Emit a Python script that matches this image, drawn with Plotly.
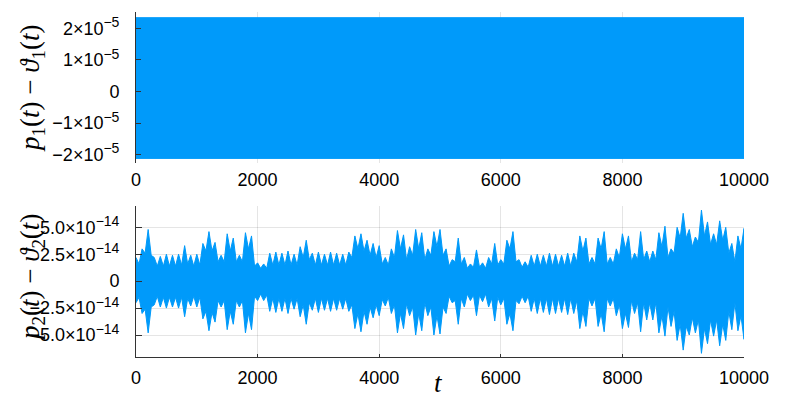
import plotly.graph_objects as go

# ---- data ----
# top panel: p1(t) - theta1(t), dense oscillation -> envelope
top_t = [0, 10000]
top_upper = [2.34e-5, 2.34e-5]
top_lower = [-2.12e-5, -2.12e-5]

# bottom panel: p2(t) - theta2(t), units of 1e-14
# spike peaks every 100 t
peak_t = list(range(0, 10001, 100))
peak_upper = [2.2, 3.0, 4.8, 2.2, 2.3, 2.5, 2.4, 2.5, 3.3, 2.4,
              2.5, 3.5, 4.6, 3.6, 2.4, 4.4, 4.0, 2.4, 4.5, 4.2,
              1.7, 1.6, 2.6, 2.7, 2.6, 2.8, 2.5, 3.2, 3.8, 2.6,
              2.7, 2.5, 2.7, 2.6, 2.5, 2.7, 4.2, 4.4, 3.8, 3.5,
              3.3, 2.2, 3.0, 4.7, 4.3, 3.2, 4.8, 4.5, 3.0, 4.6,
              4.8, 3.0, 2.0, 4.0, 2.2, 1.6, 2.9, 1.7, 2.2, 3.5,
              2.0, 3.8, 4.6, 2.0, 1.8, 2.4, 2.5, 2.4, 2.6, 2.5,
              2.4, 2.6, 2.6, 4.2, 4.0, 2.2, 4.0, 4.6, 2.2, 3.0,
              4.4, 4.2, 2.6, 4.6, 2.8, 2.8, 4.5, 5.1, 3.0, 5.0,
              6.3, 4.8, 4.1, 6.6, 5.5, 4.4, 5.6, 5.0, 3.5, 4.2,
              4.9]
peak_lower = [-2.0, -3.0, -4.8, -2.2, -2.4, -2.5, -2.4, -2.5, -3.3, -2.3,
              -2.4, -3.5, -4.6, -3.8, -2.4, -4.5, -4.0, -2.4, -4.8, -4.5,
              -1.8, -1.8, -2.8, -2.9, -2.8, -3.0, -2.6, -3.3, -4.0, -2.7,
              -2.9, -2.7, -2.8, -2.7, -2.6, -2.8, -4.4, -4.7, -4.0, -3.4,
              -3.2, -2.3, -3.0, -4.8, -4.4, -3.2, -5.0, -4.6, -3.2, -5.0,
              -4.9, -3.0, -2.0, -4.0, -2.4, -1.8, -3.2, -1.9, -2.4, -3.7,
              -2.2, -4.0, -4.6, -2.1, -2.0, -2.8, -3.0, -2.9, -3.1, -3.0,
              -2.9, -3.1, -3.0, -4.4, -4.2, -2.3, -4.2, -4.7, -2.3, -3.2,
              -4.4, -4.3, -3.0, -4.7, -3.6, -3.6, -4.8, -5.1, -4.2, -5.5,
              -6.4, -5.0, -4.8, -6.7, -5.8, -5.1, -6.0, -5.5, -4.5, -4.6,
              -5.4]
# solid core level between spikes, at t = 50, 150, ..., 9950
core_t = list(range(50, 10000, 100))
core_upper = [1.6, 2.6, 2.4, 1.4, 1.4, 1.4, 1.4, 1.5, 1.6, 1.4,
              1.5, 2.8, 2.8, 1.8, 1.8, 2.8, 1.8, 1.8, 3.0, 1.4,
              1.2, 1.2, 1.5, 1.5, 1.5, 1.5, 1.5, 2.2, 2.0, 1.5,
              1.5, 1.5, 1.5, 1.5, 1.5, 2.2, 3.0, 2.8, 2.4, 2.2,
              1.6, 1.5, 2.2, 3.0, 2.0, 2.4, 3.0, 2.0, 2.4, 3.2,
              2.4, 1.4, 1.8, 1.6, 1.2, 1.3, 1.3, 1.2, 1.6, 1.5,
              1.6, 3.0, 1.8, 1.3, 1.3, 1.4, 1.4, 1.4, 1.4, 1.4,
              1.4, 1.4, 1.8, 2.8, 1.6, 1.6, 3.0, 1.6, 1.6, 2.2,
              3.0, 1.8, 2.0, 2.0, 1.8, 2.0, 3.2, 2.2, 2.6, 4.0,
              4.0, 3.2, 3.6, 4.2, 3.4, 3.4, 3.8, 2.6, 1.8, 3.0]
core_lower = [-1.5, -2.6, -2.4, -1.4, -1.5, -1.5, -1.5, -1.5, -1.6, -1.4,
              -1.5, -2.8, -2.9, -1.8, -1.8, -2.8, -1.8, -1.8, -3.0, -1.4,
              -1.2, -1.3, -1.6, -1.6, -1.6, -1.6, -1.6, -2.2, -2.0, -1.6,
              -1.6, -1.6, -1.6, -1.6, -1.6, -2.2, -3.0, -2.8, -2.4, -2.2,
              -1.7, -1.5, -2.2, -3.0, -2.1, -2.4, -3.0, -2.0, -2.4, -3.2,
              -2.4, -1.4, -1.8, -1.6, -1.2, -1.3, -1.3, -1.2, -1.6, -1.5,
              -1.6, -3.0, -1.8, -1.4, -1.4, -1.6, -1.6, -1.6, -1.6, -1.6,
              -1.6, -1.6, -1.8, -2.8, -1.6, -1.6, -3.0, -1.6, -1.6, -2.2,
              -3.0, -1.8, -2.0, -2.0, -2.0, -2.0, -3.2, -2.4, -2.8, -4.0,
              -4.2, -3.4, -3.6, -4.4, -3.6, -3.6, -4.0, -2.8, -2.0, -3.2]
bot_scale = 1e-14

x_ticks = [0, 2000, 4000, 6000, 8000, 10000]
top_yticks = [-2e-5, -1e-5, 0, 1e-5, 2e-5]
top_exp_text = ["−2×10|−5", "−1×10|−5", "0", "1×10|−5", "2×10|−5"]
bot_yticks = [-5e-14, -2.5e-14, 0, 2.5e-14, 5e-14]
bot_exp_text = ["−5.0×10|−14", "−2.5×10|−14", "0", "2.5×10|−14", "5.0×10|−14"]


def fmt(s):
    if "|" not in s:
        return s
    base, ex = s.split("|")
    return base + '<sup><span style="font-size:14px">' + ex + "</span></sup>"


BLUE = "#009AFA"

fig = go.Figure()

# top band
fig.add_trace(go.Scatter(
    x=top_t + top_t[::-1],
    y=top_upper + top_lower[::-1],
    fill="toself", fillcolor=BLUE, mode="lines",
    line=dict(color=BLUE, width=1),
    xaxis="x", yaxis="y", showlegend=False, hoverinfo="skip"))

# bottom: polygon through spike peaks and core levels
ux, uy, lx, ly = [], [], [], []
for i, t in enumerate(peak_t):
    ux.append(t)
    uy.append(peak_upper[i] * bot_scale)
    lx.append(t)
    ly.append(peak_lower[i] * bot_scale)
    if i < len(core_t):
        ux.append(core_t[i])
        uy.append(core_upper[i] * bot_scale)
        lx.append(core_t[i])
        ly.append(core_lower[i] * bot_scale)
fig.add_trace(go.Scatter(
    x=ux + lx[::-1],
    y=uy + ly[::-1],
    fill="toself", fillcolor=BLUE, mode="lines",
    line=dict(color=BLUE, width=1),
    xaxis="x2", yaxis="y2", showlegend=False, hoverinfo="skip"))

tickfont = dict(family="Liberation Sans, Arial, sans-serif", size=18, color="#000")
grid = "rgba(0,0,0,0.1)"
axcol = "#333"

fig.update_layout(
    width=792, height=392,
    margin=dict(l=128, r=56, t=4, b=43),
    paper_bgcolor="white", plot_bgcolor="white",
    xaxis=dict(domain=[0, 1], anchor="y", range=[0, 10000],
               tickvals=x_ticks, ticktext=[str(v) for v in x_ticks],
               tickfont=tickfont, showgrid=True, gridcolor=grid, gridwidth=0.5,
               showline=False, ticks="", zeroline=False, ticklabelstandoff=4),
    yaxis=dict(domain=[0.562, 1], anchor="x", range=[-2.27e-5, 2.52e-5],
               tickvals=top_yticks, ticktext=[fmt(s) for s in top_exp_text],
               tickfont=tickfont,
               showgrid=True, gridcolor=grid, gridwidth=0.5,
               showline=True, linecolor=axcol, linewidth=1,
               ticks="inside", ticklen=5, tickcolor=axcol, zeroline=False,
               ticklabelstandoff=12),
    xaxis2=dict(domain=[0, 1], anchor="y2", range=[0, 10000],
                tickvals=x_ticks, ticktext=[str(v) for v in x_ticks],
                tickfont=tickfont, showgrid=True, gridcolor=grid, gridwidth=0.5,
                showline=True, linecolor=axcol, linewidth=1,
                ticks="inside", ticklen=3, tickcolor=axcol, zeroline=False,
                ticklabelstandoff=4),
    yaxis2=dict(domain=[0, 0.4377], anchor="x2", range=[-7.04e-14, 6.98e-14],
                tickvals=bot_yticks, ticktext=[fmt(s) for s in bot_exp_text],
                tickfont=tickfont,
                showgrid=True, gridcolor=grid, gridwidth=0.5,
                showline=True, linecolor=axcol, linewidth=1,
                ticks="inside", ticklen=6, tickcolor=axcol, zeroline=False,
                ticklabelstandoff=12),
)

mathfont = dict(family="Liberation Serif, DejaVu Serif, serif", size=27, color="#000")
fig.add_annotation(xref="paper", yref="paper", x=-0.171, y=0.777,
                   text="<i>p</i><sub>1</sub>(<i>t</i>) − <i>ϑ</i><sub>1</sub>(<i>t</i>)",
                   textangle=-90, showarrow=False, font=mathfont,
                   xanchor="center", yanchor="middle")
fig.add_annotation(xref="paper", yref="paper", x=-0.171, y=0.229,
                   text="<i>p</i><sub>2</sub>(<i>t</i>) − <i>ϑ</i><sub>2</sub>(<i>t</i>)",
                   textangle=-90, showarrow=False, font=mathfont,
                   xanchor="center", yanchor="middle")
fig.add_annotation(xref="paper", yref="paper", x=0.497, y=-0.1246,
                   text="<i>t</i>", showarrow=False, font=mathfont,
                   xanchor="center", yanchor="bottom")

fig.write_html("out.html")
